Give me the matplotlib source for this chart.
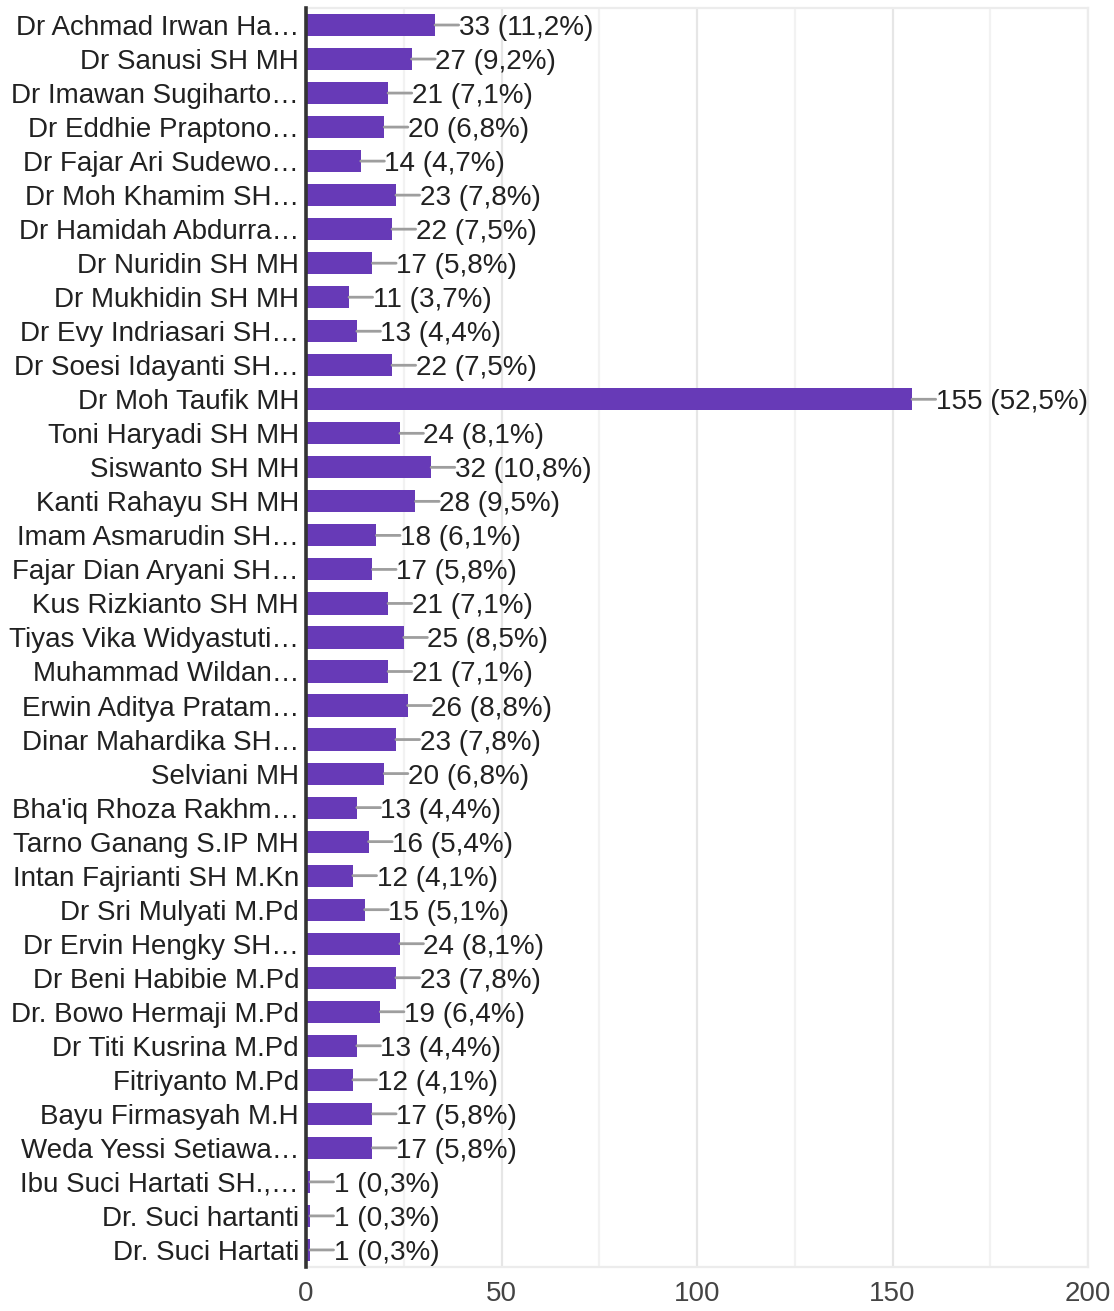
import matplotlib
matplotlib.use("Agg")
import matplotlib.pyplot as plt

plt.rcParams["font.family"] = ["Liberation Sans", "DejaVu Sans"]

names = [
    "Dr Achmad Irwan Ha…", "Dr Sanusi SH MH", "Dr Imawan Sugiharto…",
    "Dr Eddhie Praptono…", "Dr Fajar Ari Sudewo…", "Dr Moh Khamim SH…",
    "Dr Hamidah Abdurra…", "Dr Nuridin SH MH", "Dr Mukhidin SH MH",
    "Dr Evy Indriasari SH…", "Dr Soesi Idayanti SH…", "Dr Moh Taufik MH",
    "Toni Haryadi SH MH", "Siswanto SH MH", "Kanti Rahayu SH MH",
    "Imam Asmarudin SH…", "Fajar Dian Aryani SH…", "Kus Rizkianto SH MH",
    "Tiyas Vika Widyastuti…", "Muhammad Wildan…", "Erwin Aditya Pratam…",
    "Dinar Mahardika SH…", "Selviani MH", "Bha'iq Rhoza Rakhm…",
    "Tarno Ganang S.IP MH", "Intan Fajrianti SH M.Kn", "Dr Sri Mulyati M.Pd",
    "Dr Ervin Hengky SH…", "Dr Beni Habibie M.Pd", "Dr. Bowo Hermaji M.Pd",
    "Dr Titi Kusrina M.Pd", "Fitriyanto M.Pd", "Bayu Firmasyah M.H",
    "Weda Yessi Setiawa…", "Ibu Suci Hartati SH.,…", "Dr. Suci hartanti",
    "Dr. Suci Hartati",
]
counts = [33, 27, 21, 20, 14, 23, 22, 17, 11, 13, 22, 155, 24, 32, 28, 18,
          17, 21, 25, 21, 26, 23, 20, 13, 16, 12, 15, 24, 23, 19, 13, 12,
          17, 17, 1, 1, 1]
pcts = ["11,2", "9,2", "7,1", "6,8", "4,7", "7,8", "7,5", "5,8", "3,7", "4,4",
        "7,5", "52,5", "8,1", "10,8", "9,5", "6,1", "5,8", "7,1", "8,5", "7,1",
        "8,8", "7,8", "6,8", "4,4", "5,4", "4,1", "5,1", "8,1", "7,8", "6,4",
        "4,4", "4,1", "5,8", "5,8", "0,3", "0,3", "0,3"]
xticks = [0, 50, 100, 150, 200]
minor_ticks = [25, 75, 125, 175]

fig = plt.figure(figsize=(11.14, 13.11), dpi=100)
ax = fig.add_axes([0.2747, 0.0336, 0.702, 0.9603])

ypos = list(range(len(names)))
ax.barh(ypos, counts, height=0.65, color="#673ab7", zorder=3)

for y, c, p in zip(ypos, counts, pcts):
    ax.annotate("", xy=(c, y), xytext=(17, 0), textcoords="offset points",
                arrowprops=dict(arrowstyle="-", color="#9e9e9e", lw=2,
                                shrinkA=0, shrinkB=0), zorder=4)
    ax.annotate(f"{c} ({p}%)", xy=(c, y), xytext=(17, 0),
                textcoords="offset points", ha="left", va="center_baseline",
                fontsize=20.1, color="#212121", zorder=5)

ax.set_xlim(0, 200)
ax.set_ylim(len(names) - 0.5, -0.5)
ax.set_yticks(ypos)
ax.set_yticklabels(names, fontsize=20, color="#212121", va="center_baseline")
ax.set_xticks(xticks)
ax.set_xticklabels([str(t) for t in xticks], fontsize=20, color="#444444")
ax.tick_params(axis="both", length=0)
ax.tick_params(axis="y", pad=5)
ax.tick_params(axis="x", pad=10)

for t in xticks[1:]:
    ax.axvline(t, color="#e6e6e6", lw=1.6, zorder=1)
for t in minor_ticks:
    ax.axvline(t, color="#f2f2f2", lw=1.6, zorder=1)

for s in ["top", "right", "bottom"]:
    ax.spines[s].set_color("#ececec")
    ax.spines[s].set_linewidth(1.6)
ax.spines["left"].set_color("#333333")
ax.spines["left"].set_linewidth(2.6)
ax.spines["left"].set_zorder(6)

fig.savefig("out.png", dpi=100)
